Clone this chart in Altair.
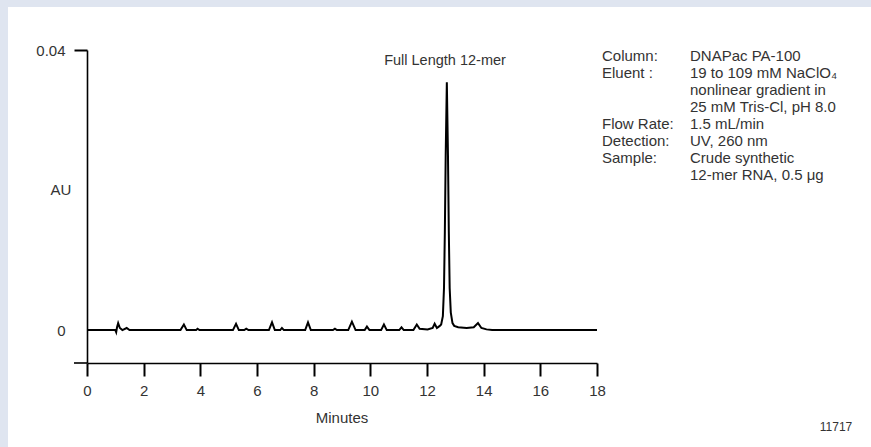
import altair as alt
import pandas as pd

FONT = "Liberation Sans, Arial, sans-serif"
TXT = "#333333"

# Chromatogram trace (minutes, AU)
time_min = [0.0, 1.00, 1.03, 1.06, 1.10, 1.16, 1.25, 1.40, 1.50,
            3.30, 3.42, 3.52, 3.85, 3.90, 3.97,
            5.15, 5.26, 5.36, 5.55, 5.62, 5.70,
            6.42, 6.53, 6.63, 6.82, 6.88, 6.95,
            7.70, 7.80, 7.90, 8.68, 8.75, 8.82,
            9.22, 9.35, 9.48, 9.80, 9.88, 9.97,
            10.38, 10.48, 10.58, 11.02, 11.10, 11.18,
            11.52, 11.64, 11.74, 12.02, 12.20, 12.27, 12.35, 12.45,
            12.50, 12.56, 12.60, 12.63, 12.66, 12.70, 12.74, 12.77, 12.80, 12.84, 12.90,
            12.96, 13.10, 13.40, 13.65, 13.80, 13.92, 14.10, 14.30, 18.0]
absorb = [0.0, 0.0, -0.0003, 0.0004, 0.0010, 0.0003, 0.0, 0.0003, 0.0,
          0.0, 0.0008, 0.0, 0.0, 0.0002, 0.0,
          0.0, 0.0009, 0.0, 0.0, 0.0002, 0.0,
          0.0, 0.0011, 0.0, 0.0, 0.0003, 0.0,
          0.0, 0.0011, 0.0, 0.0, 0.0002, 0.0,
          0.0, 0.0012, 0.0, 0.0, 0.0005, 0.0,
          0.0, 0.0008, 0.0, 0.0, 0.0004, 0.0,
          0.0, 0.0008, 0.0002, 0.0001, 0.0003, 0.0009, 0.0003, 0.0006,
          0.0008, 0.0020, 0.0060, 0.0140, 0.0250, 0.0354, 0.0250, 0.0140, 0.0060, 0.0025, 0.0010,
          0.0006, 0.0004, 0.0003, 0.0004, 0.0010, 0.0003, 0.0001, 0.0, 0.0]

x_ticks = [0, 2, 4, 6, 8, 10, 12, 14, 16, 18]
y_ticks = [0, 0.04]

info_labels = ["Column:", "Eluent :", "", "", "Flow Rate:", "Detection:", "Sample:", ""]
info_values = ["DNAPac PA-100", "19 to 109 mM NaClO\u2084", "nonlinear gradient in",
               "25 mM Tris-Cl, pH 8.0", "1.5 mL/min", "UV, 260 nm",
               "Crude synthetic", "12-mer RNA, 0.5 \u03bcg"]

trace = pd.DataFrame({"t": time_min, "au": absorb})
info = pd.DataFrame({"row": list(range(len(info_labels))),
                     "lab": info_labels, "val": info_values})

W, H = 510, 313

bg = alt.Chart(pd.DataFrame({"a": [0]})).mark_rect(color="white").encode(
    x=alt.value(-79), x2=alt.value(784), y=alt.value(-43), y2=alt.value(397))

line = alt.Chart(trace).mark_line(color="black", strokeWidth=2).encode(
    x=alt.X("t:Q", scale=alt.Scale(domain=[0, 18], nice=False, zero=False),
            axis=alt.Axis(values=x_ticks, format="d", tickSize=13, tickWidth=2,
                          tickColor="black", domainColor="black", domainWidth=1.6,
                          labelFontSize=15, labelFont=FONT, labelColor=TXT,
                          labelPadding=7, labelFlush=False, labelOverlap=False,
                          grid=False, title=None, zindex=1)),
    y=alt.Y("au:Q", scale=alt.Scale(domain=[-0.0047, 0.04], nice=False, zero=False),
            axis=alt.Axis(values=y_ticks, tickSize=13, tickWidth=2, tickColor="black",
                          tickOpacity={"condition": {"test": "datum.value === 0", "value": 0}, "value": 1},
                          labelExpr="datum.value === 0 ? '0' : '0.04'",
                          domainColor="black", domainWidth=1.6,
                          labelFontSize=15, labelFont=FONT, labelColor=TXT,
                          labelPadding=9, labelFlush=False, labelOverlap=False,
                          grid=False, title=None, zindex=1)),
)

ext = alt.Chart(pd.DataFrame({"a": [0]})).mark_rule(color="black", strokeWidth=1.6).encode(
    x=alt.value(-13), x2=alt.value(0), y=alt.value(H), y2=alt.value(H))

def label(txt, x, y, size=15, align="center"):
    return alt.Chart(pd.DataFrame({"s": [txt]})).mark_text(
        font=FONT, fontSize=size, color=TXT, align=align, baseline="middle").encode(
        x=alt.value(x), y=alt.value(y), text="s:N")

peak_lbl = label("Full Length 12-mer", 358, 11, 14.5)
au_lbl = label("AU", -26, 140)
min_lbl = label("Minutes", 255, 368)
id_lbl = label("11717", 749, 377, 12)

col1 = alt.Chart(info).transform_calculate(py="5.5 + datum.row * 17").mark_text(
    font=FONT, fontSize=15, color=TXT, align="left", baseline="middle").encode(
    x=alt.value(515), y=alt.Y("py:Q", scale=None), text="lab:N")
col2 = alt.Chart(info).transform_calculate(py="5.5 + datum.row * 17").mark_text(
    font=FONT, fontSize=15, color=TXT, align="left", baseline="middle").encode(
    x=alt.value(603), y=alt.Y("py:Q", scale=None), text="val:N")

chart = alt.layer(bg, line, ext, peak_lbl, au_lbl, min_lbl, id_lbl, col1, col2).properties(
    width=W, height=H,
    autosize=alt.AutoSizeParams(type="none"),
    padding={"left": 87, "top": 50, "right": 274, "bottom": 84},
    background="#dfe5f0",
).configure_view(strokeWidth=0)

chart.save("out.html", embed_options={"renderer": "svg", "actions": False})
